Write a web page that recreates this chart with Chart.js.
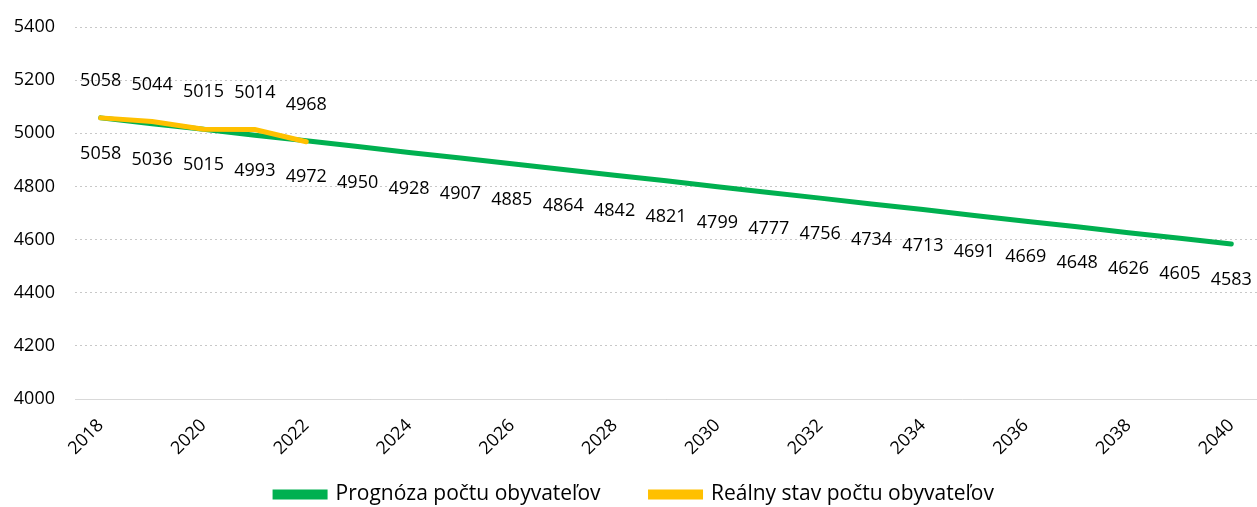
<!DOCTYPE html>
<html>
<head>
<meta charset="utf-8">
<script src="https://cdn.jsdelivr.net/npm/chart.js@4"></script>
<style>
  html, body { margin: 0; padding: 0; background: #fff; }
  #wrap { width: 1257px; height: 507px; }
</style>
</head>
<body>
<div id="wrap"><canvas id="popChart"></canvas></div>
<script>
// === Data ===
const years = ['2018','2019','2020','2021','2022','2023','2024','2025','2026','2027','2028','2029',
  '2030','2031','2032','2033','2034','2035','2036','2037','2038','2039','2040'];
const forecast = [5058, 5036, 5015, 4993, 4972, 4950, 4928, 4907, 4885, 4864, 4842, 4821,
  4799, 4777, 4756, 4734, 4713, 4691, 4669, 4648, 4626, 4605, 4583];
const actual = [5058, 5044, 5015, 5014, 4968];
const seriesNames = ['Prognóza počtu obyvateľov', 'Reálny stav počtu obyvateľov'];

const FONT = 'Open Sans';

// === Value labels (green below, yellow above) ===
const valueLabels = {
  id: 'valueLabels',
  afterDatasetsDraw(chart) {
    const ctx = chart.ctx;
    ctx.save();
    ctx.font = '18px "' + FONT + '"';
    ctx.fillStyle = '#000';
    ctx.textAlign = 'center';
    ctx.textBaseline = 'middle';
    chart.data.datasets.forEach((ds, i) => {
      const meta = chart.getDatasetMeta(i);
      meta.data.forEach((pt, j) => {
        const off = i === 0 ? 36 : -37;
        ctx.fillText(String(ds.data[j]), pt.x, pt.y + off);
      });
    });
    ctx.restore();
  }
};

// pull the legend up closer to the axis labels (keeps the wide item spacing)
const legendShift = {
  id: 'legendShift',
  afterLayout(chart) {
    if (chart.legend) chart.legend.top -= 41;
  }
};

const ctx = document.getElementById('popChart');
new Chart(ctx, {
  type: 'line',
  data: {
    labels: years,
    datasets: [
      {
        label: seriesNames[0],
        data: forecast,
        borderColor: '#00B050',
        backgroundColor: '#00B050',
        borderWidth: 5,
        pointRadius: 0,
        tension: 0,
        borderCapStyle: 'round',
        order: 2
      },
      {
        label: seriesNames[1],
        data: actual,
        borderColor: '#FFC000',
        backgroundColor: '#FFC000',
        borderWidth: 5,
        pointRadius: 0,
        tension: 0,
        borderCapStyle: 'round',
        order: 1
      }
    ]
  },
  options: {
    responsive: true,
    maintainAspectRatio: false,
    animation: false,
    layout: { padding: { top: 27, right: 0, left: 12, bottom: -49 } },
    plugins: {
      legend: {
        position: 'bottom',
        labels: {
          font: { family: FONT, size: 21 },
          color: '#000',
          boxWidth: 50,
          boxHeight: 5,
          padding: 50,
          sort: (a, b) => a.datasetIndex - b.datasetIndex
        }
      },
      tooltip: { enabled: false }
    },
    scales: {
      x: {
        offset: true,
        grid: { display: false, drawTicks: false },
        border: { display: true, color: '#d9d9d9', width: 1 },
        afterFit: (scale) => {
          scale.height = 76;
          scale.paddingLeft = 0;
          scale.paddingRight = 0;
        },
        ticks: {
          autoSkip: false,
          maxRotation: 45,
          minRotation: 45,
          padding: 16,
          color: '#000',
          font: { family: FONT, size: 18 },
          callback: function (val, idx) {
            return idx % 2 === 0 ? this.getLabelForValue(val) : '';
          }
        }
      },
      y: {
        min: 4000,
        max: 5400,
        afterFit: (scale) => {
          scale.width = 63;
          scale.paddingTop = 0;
          scale.paddingBottom = 0;
        },
        ticks: {
          stepSize: 200,
          color: '#000',
          padding: 20,
          font: { family: FONT, size: 18 },
          callback: (v) => String(v)
        },
        border: { display: false, dash: [2, 3] },
        grid: {
          color: '#c8c8c8',
          lineWidth: 1,
          drawTicks: false
        }
      }
    }
  },
  plugins: [valueLabels, legendShift]
});
</script>
</body>
</html>
